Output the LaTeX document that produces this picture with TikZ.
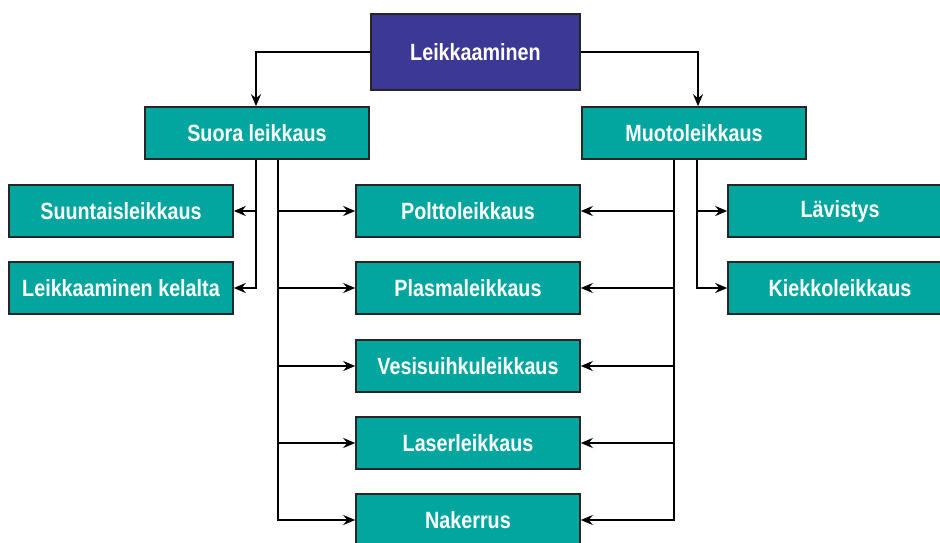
\documentclass[tikz,border=0pt]{standalone}
\usepackage{fontspec}
\setmainfont{Liberation Sans}[FakeStretch=0.84]
\usepackage{xcolor}
\usetikzlibrary{calc,arrows.meta}
\definecolor{teal1}{RGB}{2,166,158}
\definecolor{navy1}{RGB}{59,56,150}

\begin{document}
\begin{tikzpicture}[x=1pt,y=-1pt,every node/.style={draw=black!85,line width=1.6pt,fill=teal1,text=white,
	minimum width=224pt,minimum height=52pt,inner sep=0pt,font=\fontsize{23.5}{26}\selectfont\bfseries}]
	\useasboundingbox (0,0) rectangle (940,543);
	
	\node[fill=navy1,minimum width=209pt,minimum height=76pt] (top) at (475.5,52){Leikkaaminen};
	\node (suora) at (257,133){Suora leikkaus};
	\node (muoto) at (694,133){Muotoleikkaus};
	\node (suunt) at (121,211){Suuntaisleikkaus};
	\node (kela) at (121,288){Leikkaaminen kelalta};
	\node (poltto) at (468,211){Polttoleikkaus};
	\node (plasma) at (468,288){Plasmaleikkaus};
	\node (vesi) at (468,366){Vesisuihkuleikkaus};
	\node (laser) at (468,443){Laserleikkaus};
	\node (naker) at (468,520){Nakerrus};
	\node (lavis) at (840,211){Lävistys};
	\node (kiekko) at (840,288){Kiekkoleikkaus};
	\begin{scope}[line width=2pt, -{Stealth[length=12pt,width=10pt,inset=4pt]}]
	%from the top
	\draw (top.west) -| ([xshift=-1pt]suora.north);
	\draw (top.east) -| ([xshift=4pt]muoto.north);
	%left branches
	\draw ([xshift=-1pt]suora.south) |- (suunt.east);
	\draw ([xshift=-1pt]suora.south) |- (kela.east);
	\draw ([xshift=21pt]suora.south) |- (poltto.west);
	\draw ([xshift=21pt]suora.south) |- (plasma.west);
	\draw ([xshift=21pt]suora.south) |- (vesi.west);
	\draw ([xshift=21pt]suora.south) |- (laser.west);
	\draw ([xshift=21pt]suora.south) |- (naker.west);
	%right branches
	\draw ([xshift=-20pt]muoto.south) |- (poltto.east);
	\draw ([xshift=-20pt]muoto.south) |- (plasma.east);
	\draw ([xshift=-20pt]muoto.south) |- (vesi.east);
	\draw ([xshift=-20pt]muoto.south) |- (laser.east);
	\draw ([xshift=-20pt]muoto.south) |- (naker.east);
	\draw ([xshift=3pt]muoto.south) |- (lavis.west);
	\draw ([xshift=3pt]muoto.south) |- (kiekko.west);
	\end{scope}
\end{tikzpicture}
\end{document}
